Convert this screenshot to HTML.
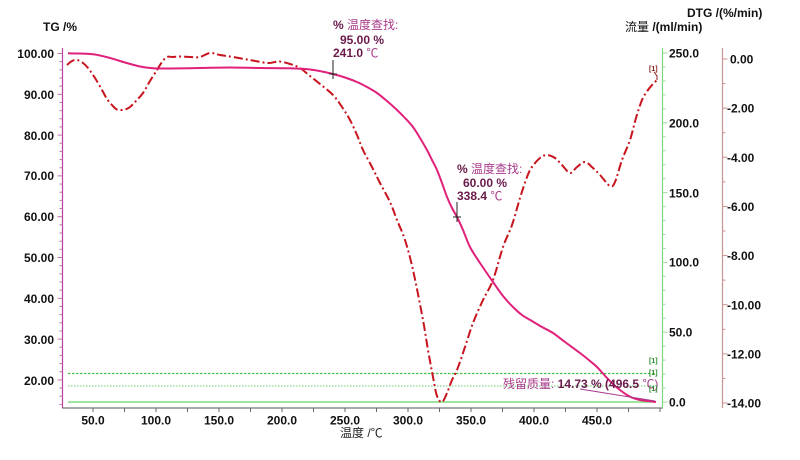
<!DOCTYPE html>
<html><head><meta charset="utf-8"><style>
html,body{margin:0;padding:0;background:#fff;}
svg{display:block;}
text{font-family:"Liberation Sans","Noto Sans CJK SC",sans-serif;}
.b{font-weight:bold;font-size:12px;fill:#111;}
</style></head><body>
<svg width="800" height="460" viewBox="0 0 800 460" xmlns="http://www.w3.org/2000/svg">
<rect width="800" height="460" fill="#fff"/>
<line x1="62.5" y1="48" x2="62.5" y2="408" stroke="#b8409e" stroke-width="1.2"/>
<line x1="62" y1="408" x2="663" y2="408" stroke="#555" stroke-width="1"/>
<line x1="662.5" y1="48" x2="662.5" y2="408" stroke="#7fd67f" stroke-width="1.2"/>
<line x1="722.5" y1="48" x2="722.5" y2="408" stroke="#c99393" stroke-width="1.2"/>
<g stroke="#c070b0" stroke-width="1" id="lt"></g>
<g stroke="#9ade9a" stroke-width="1" id="gt"></g>
<g stroke="#c99393" stroke-width="1" id="dt"></g>
<g stroke="#666" stroke-width="1" id="bt"></g>
<g class="b" text-anchor="end">
<text x="54" y="58" class="b">100.00</text>
<text x="54" y="99" class="b">90.00</text>
<text x="54" y="140" class="b">80.00</text>
<text x="54" y="180" class="b">70.00</text>
<text x="54" y="221" class="b">60.00</text>
<text x="54" y="262" class="b">50.00</text>
<text x="54" y="303" class="b">40.00</text>
<text x="54" y="344" class="b">30.00</text>
<text x="54" y="385" class="b">20.00</text>
</g>
<text x="43" y="31" class="b">TG /%</text>
<text x="669" y="57.5" class="b">250.0</text>
<text x="669" y="127.5" class="b">200.0</text>
<text x="669" y="197.5" class="b">150.0</text>
<text x="669" y="266.5" class="b">100.0</text>
<text x="669" y="336.5" class="b">50.0</text>
<text x="669" y="406.5" class="b">0.0</text>
<text x="730" y="63.5" class="b">0.00</text>
<text x="727" y="112.5" class="b">-2.00</text>
<text x="727" y="162" class="b">-4.00</text>
<text x="727" y="211" class="b">-6.00</text>
<text x="727" y="260" class="b">-8.00</text>
<text x="727" y="309.5" class="b">-10.00</text>
<text x="727" y="358.5" class="b">-12.00</text>
<text x="727" y="407.5" class="b">-14.00</text>
<text x="687" y="17" class="b">DTG /(%/min)</text>
<text x="625" y="31" class="b"><tspan font-weight="normal">流量 </tspan>/(ml/min)</text>
<g text-anchor="middle">
<text x="93" y="424.5" class="b">50.0</text>
<text x="156" y="424.5" class="b">100.0</text>
<text x="219" y="424.5" class="b">150.0</text>
<text x="282" y="424.5" class="b">200.0</text>
<text x="345" y="424.5" class="b">250.0</text>
<text x="408" y="424.5" class="b">300.0</text>
<text x="471" y="424.5" class="b">350.0</text>
<text x="534" y="424.5" class="b">400.0</text>
<text x="597" y="424.5" class="b">450.0</text>
</g>
<text x="340" y="437" font-size="12" fill="#222">温度 /℃</text>
<line x1="68" y1="402" x2="656" y2="402" stroke="#66d466" stroke-width="1.3"/>
<line x1="68" y1="373.5" x2="656" y2="373.5" stroke="#44c444" stroke-width="1.3" stroke-dasharray="2.5,1.5"/>
<line x1="68" y1="386" x2="656" y2="386" stroke="#66cc66" stroke-width="1" stroke-dasharray="1.5,1.5"/>
<path id="dtg" fill="none" stroke="#c8141e" stroke-width="2" stroke-dasharray="9,3,2,3"/>
<path id="tg" fill="none" stroke="#e0207a" stroke-width="2"/>
<line x1="333" y1="60" x2="333" y2="79" stroke="#222" stroke-width="1"/>
<line x1="329" y1="74" x2="337" y2="74" stroke="#222" stroke-width="1"/>
<text x="333" y="29" font-size="12" fill="#a8388a"><tspan font-weight="bold" fill="#6a1a4a">%</tspan> 温度查找:</text>
<text x="340" y="44" font-size="12" font-weight="bold" fill="#6a1a4a">95.00 %</text>
<text x="333" y="57" font-size="12" fill="#a8388a"><tspan font-weight="bold" fill="#6a1a4a">241.0</tspan> ℃</text>
<line x1="457" y1="202" x2="457" y2="222" stroke="#222" stroke-width="1"/>
<line x1="453" y1="217" x2="461" y2="217" stroke="#222" stroke-width="1"/>
<text x="457" y="173" font-size="12" fill="#a8388a"><tspan font-weight="bold" fill="#6a1a4a">%</tspan> 温度查找:</text>
<text x="463" y="187" font-size="12" font-weight="bold" fill="#6a1a4a">60.00 %</text>
<text x="457" y="200" font-size="12" fill="#a8388a"><tspan font-weight="bold" fill="#6a1a4a">338.4</tspan> ℃</text>
<line x1="580" y1="389" x2="655" y2="401" stroke="#a8388a" stroke-width="1"/>
<text x="503" y="388" font-size="12" fill="#a8388a">残留质量: <tspan font-weight="bold" fill="#6a1a4a">14.73 % (496.5 </tspan>℃)</text>
<g font-size="7" font-weight="bold">
<text x="649" y="71" fill="#8a1a1a">[1]</text>
<text x="649" y="363" fill="#2a8a2a">[1]</text>
<text x="649" y="375" fill="#2a8a2a">[1]</text>
<text x="649" y="391" fill="#2a8a2a">[1]</text>
</g>
<polyline points="654,72 657,76 657,80" fill="none" stroke="#8a1a1a" stroke-width="1"/>
</svg>
<script>
(function(){
var ns="http://www.w3.org/2000/svg";
function L(g,x1,y1,x2,y2){var l=document.createElementNS(ns,"line");l.setAttribute("x1",x1);l.setAttribute("y1",y1);l.setAttribute("x2",x2);l.setAttribute("y2",y2);document.getElementById(g).appendChild(l);}
for(var v=100;v>=14;v-=2){var y=53.5+(100-v)*4.08;var len=(v%10==0)?5:3;L("lt",62.5-len,y,62.5,y);}
for(var v=0;v<=250;v+=10){var y=402-v*1.396;var len=(v%50==0)?5:3;L("gt",662.5,y,662.5+len,y);}
for(var v=0;v>=-14;v--){var y=59+(-v)*24.57;var len=(v%2==0)?5:3;L("dt",722.5,y,722.5+len,y);}
for(var t=50;t<=500;t+=25){var x=93+(t-50)*1.26;if(x>662)break;L("bt",x,408,x,412);}
function smooth(pts){
 var d="M"+pts[0][0]+","+pts[0][1];
 for(var i=0;i<pts.length-1;i++){
  var p0=pts[i-1]||pts[i],p1=pts[i],p2=pts[i+1],p3=pts[i+2]||p2;
  var c1x=p1[0]+(p2[0]-p0[0])/6,c1y=p1[1]+(p2[1]-p0[1])/6;
  var c2x=p2[0]-(p3[0]-p1[0])/6,c2y=p2[1]-(p3[1]-p1[1])/6;
  d+=" C"+c1x.toFixed(2)+","+c1y.toFixed(2)+" "+c2x.toFixed(2)+","+c2y.toFixed(2)+" "+p2[0]+","+p2[1];
 }
 return d;
}
function parse(s){return s.trim().split(/\s+/).map(function(p){return p.split(",").map(Number);});}
var dtg=parse("67,65 72,61 77,60 83,63 88,68 95,78 102,90 107,99 112,105 116,109 120,110 125,109.5 130,107 136,101 143,93 150,81 157,70 162,62 167,57 173,57 180,56.5 190,57 200,57 210,53 220,55 233,57 250,60 267,63 275,62 280,61.5 290,64 300,68 310,76 320,84 333,95 342,107 350,120 357,135 363,150 372,167 380,183 390,202 397,220 405,240 413,270 423,320 428,350 433,377 437,396 442,402 447,393 452,380 457,370 465,347 473,323 483,300 493,280 503,247 512,225 520,198 527,177 532,167 540,158 547,155 555,158 562,165 570,173 577,167 585,162 593,168 600,175 610,186 615,182 622,160 630,140 636,118 642,100 648,90 653,84 657,80");
var tg=parse("68,53.3 80,53.5 95,54.5 110,58 125,62.5 140,66.5 153,68.3 170,68.5 200,68 230,67.5 260,68 290,68.3 310,69.5 322,71.5 333,74 345,77.5 357,82 367,87 377,93 387,101 397,110 405,118 413,127 420,138 427,150 432,160 437,170 442,183 447,197 452,208 457,217 463,230 470,247 480,263 493,282 503,296 513,307 522,315 532,321 542,327 553,333 565,342 580,353 590,361 597,367 607,378 614,385 620,390 627,395 633,398 640,400 648,401 656,402");
document.getElementById("dtg").setAttribute("d",smooth(dtg));
document.getElementById("tg").setAttribute("d",smooth(tg));
})();
</script>
</body></html>
